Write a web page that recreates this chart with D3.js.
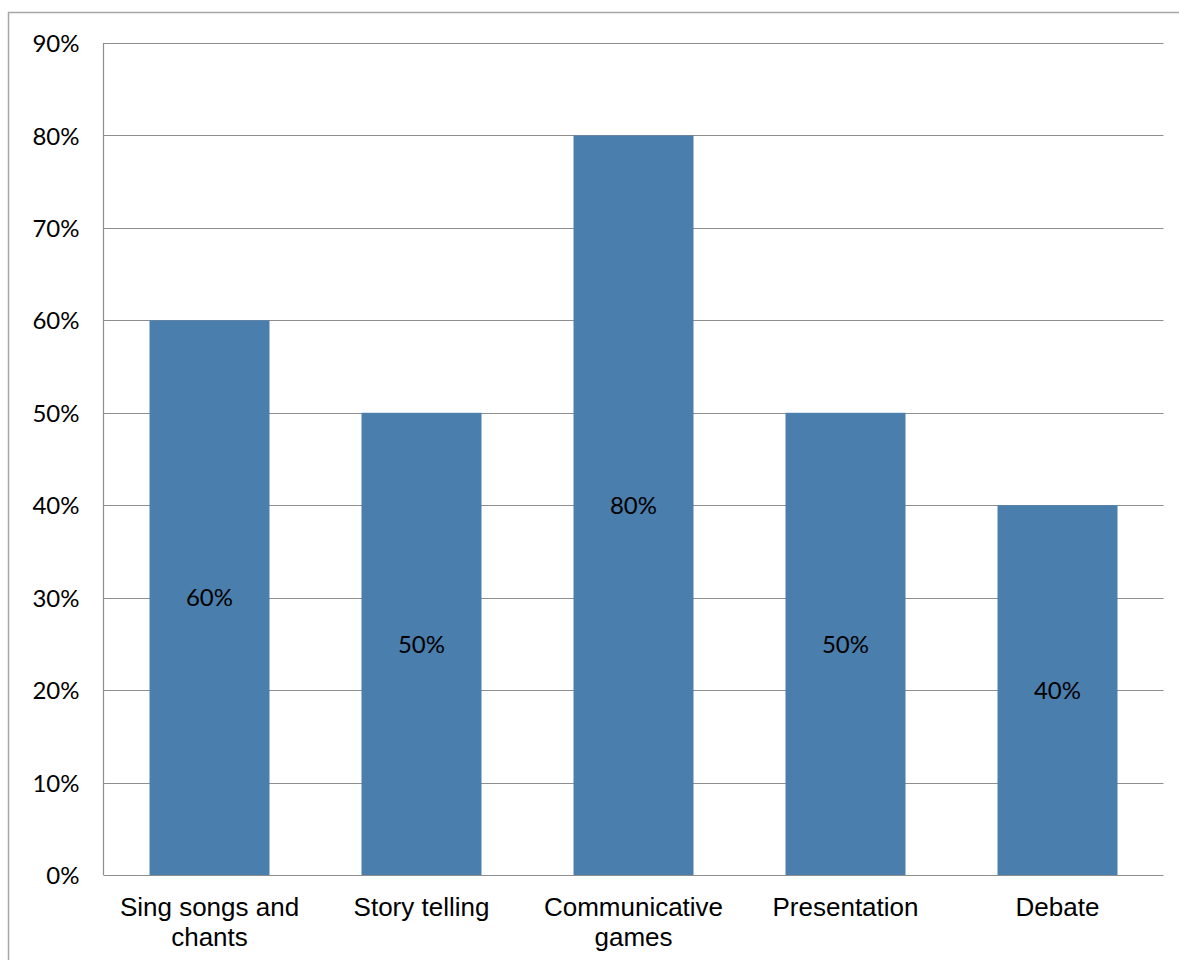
<!DOCTYPE html>
<html>
<head>
<meta charset="utf-8">
<script src="https://cdn.jsdelivr.net/npm/d3@7"></script>
<style>
  html, body { margin: 0; padding: 0; background: #fff; }
  svg { display: block; }
</style>
</head>
<body>
<svg id="chart" width="1179" height="960"></svg>
<script>
// Share of respondents using each speaking activity
const categories = [["Sing songs and", "chants"], ["Story telling"], ["Communicative", "games"], ["Presentation"], ["Debate"]];
const values = [0.60, 0.50, 0.80, 0.50, 0.40];
const yTicks = [0, 0.1, 0.2, 0.3, 0.4, 0.5, 0.6, 0.7, 0.8, 0.9];

const svg = d3.select("#chart");
const W = 1179, H = 960;
const plot = { left: 103.5, right: 1163.5, top: 43, bottom: 875 };

// Outer chart frame (extends past the right and bottom edges)
svg.append("rect")
  .attr("x", 8.5).attr("y", 12.5)
  .attr("width", W + 20).attr("height", H + 20)
  .attr("fill", "none").attr("stroke", "#a6a6a6").attr("stroke-width", 1.5);

const x = d3.scaleBand()
  .domain(categories.map((c, i) => i))
  .range([plot.left, plot.right])
  .paddingInner(0.434).paddingOuter(0.217);

const y = d3.scaleLinear().domain([0, 0.9]).range([plot.bottom, plot.top]);

// Horizontal gridlines
svg.append("g").selectAll("line")
  .data(yTicks.filter(t => t > 0))
  .join("line")
  .attr("x1", plot.left).attr("x2", plot.right)
  .attr("y1", d => Math.round(y(d)) + 0.5).attr("y2", d => Math.round(y(d)) + 0.5)
  .attr("stroke", "#8e8e8e").attr("stroke-width", 1.2);

// Bars
svg.append("g").selectAll("rect")
  .data(values)
  .join("rect")
  .attr("x", (d, i) => x(i))
  .attr("width", x.bandwidth())
  .attr("y", d => y(d))
  .attr("height", d => y(0) - y(d))
  .attr("fill", "#4a7ead");

// Value labels centred in each bar
svg.append("g").selectAll("text")
  .data(values)
  .join("text")
  .attr("x", (d, i) => x(i) + x.bandwidth() / 2)
  .attr("y", d => (y(d) + y(0)) / 2)
  .attr("dy", "0.36em")
  .attr("text-anchor", "middle")
  .attr("font-family", "Lato, 'Open Sans', sans-serif")
  .attr("font-size", 24)
  .attr("fill", "#000")
  .text(d => d3.format(".0%")(d));

// Axis lines
svg.append("line")
  .attr("x1", plot.left).attr("x2", plot.left)
  .attr("y1", plot.top).attr("y2", plot.bottom)
  .attr("stroke", "#8e8e8e").attr("stroke-width", 1.2);
svg.append("line")
  .attr("x1", plot.left).attr("x2", plot.right)
  .attr("y1", plot.bottom + 0.5).attr("y2", plot.bottom + 0.5)
  .attr("stroke", "#8e8e8e").attr("stroke-width", 1.2);

// Y-axis labels
const yAxis = d3.axisLeft(y).tickValues(yTicks).tickFormat(d3.format(".0%")).tickSize(0).tickPadding(24);
const yg = svg.append("g").attr("transform", `translate(${plot.left},0)`).call(yAxis);
yg.select(".domain").remove();
yg.selectAll("text")
  .attr("font-family", "Lato, 'Open Sans', sans-serif")
  .attr("font-size", 24)
  .attr("dy", "0.36em")
  .attr("fill", "#000");

// Category labels
const xg = svg.append("g");
categories.forEach((lines, i) => {
  const t = xg.append("text")
    .attr("x", x(i) + x.bandwidth() / 2)
    .attr("y", 916)
    .attr("text-anchor", "middle")
    .attr("font-family", "'Liberation Sans', Arial, sans-serif")
    .attr("font-size", 26)
    .attr("fill", "#000");
  lines.forEach((ln, j) => {
    t.append("tspan")
      .attr("x", x(i) + x.bandwidth() / 2)
      .attr("dy", j === 0 ? 0 : 30)
      .text(ln);
  });
});
</script>
</body>
</html>
